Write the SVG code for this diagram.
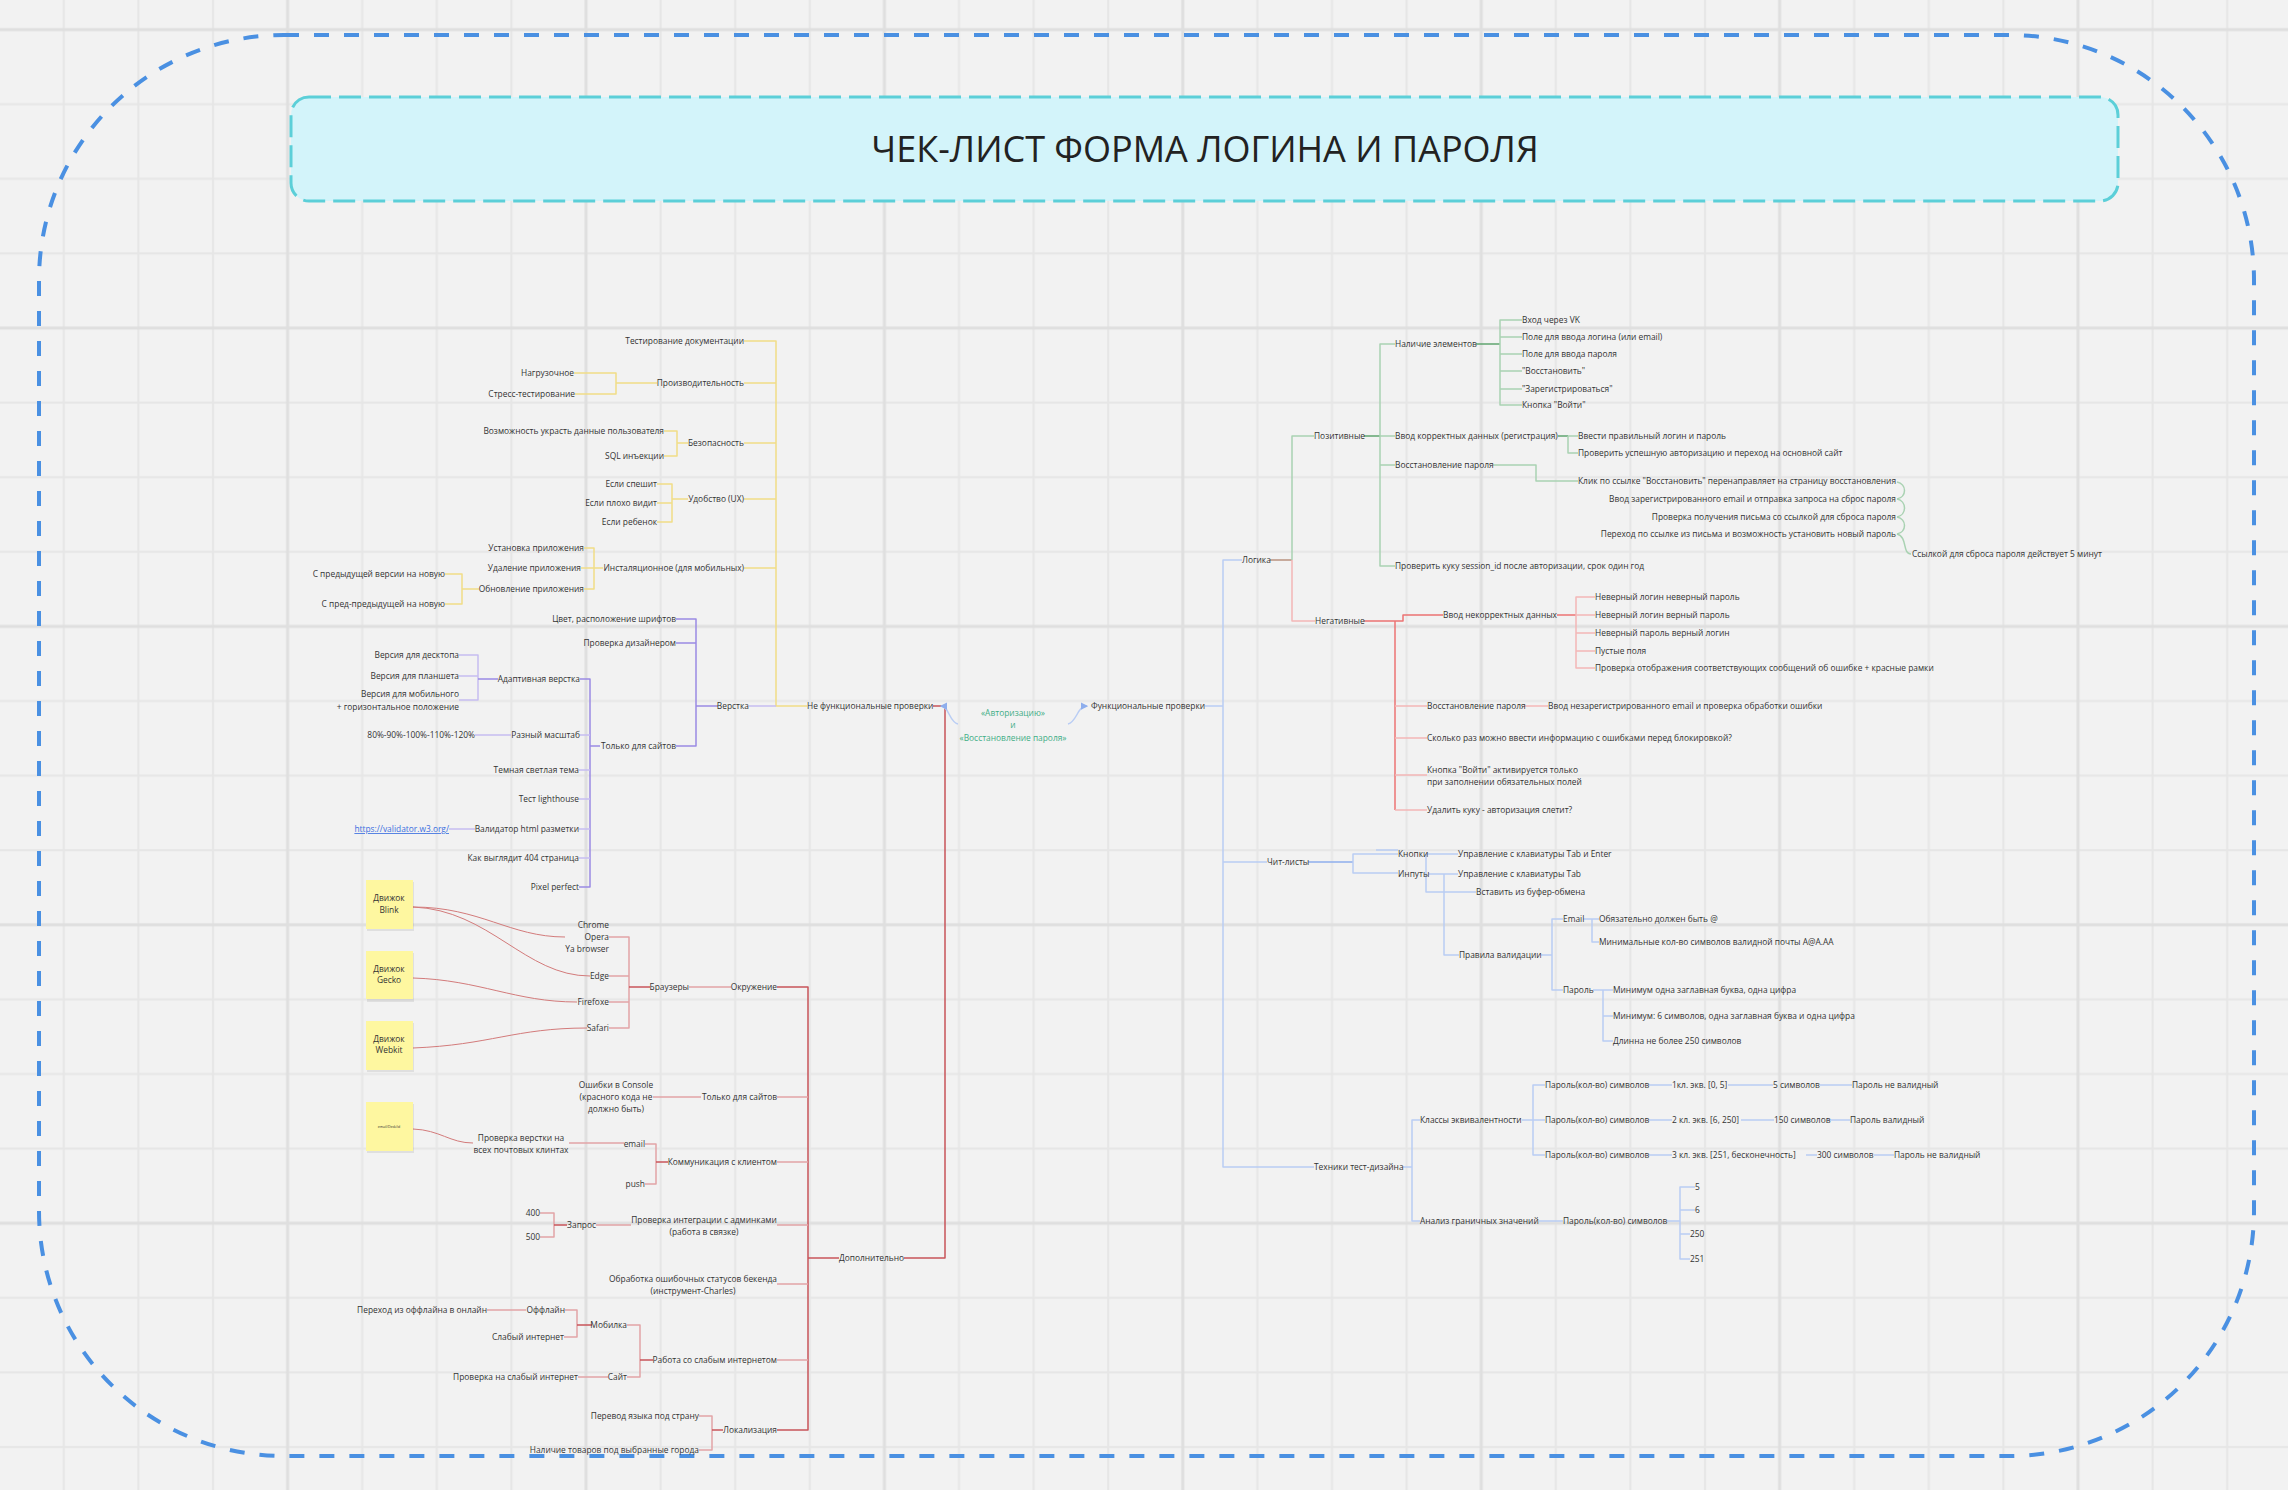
<svg xmlns="http://www.w3.org/2000/svg" width="2288" height="1490" viewBox="0 0 2288 1490">
<style>
.t{font-family:'Open Sans','DejaVu Sans',sans-serif;font-size:8.4px;fill:#333}
.e{text-anchor:end}
.m{text-anchor:middle}
.lk{fill:#3b6fe0;text-decoration:underline}
.gr{fill:#3fae86}
.c{fill:none;stroke-width:1.5;stroke-linejoin:round}
.y{stroke:#f1dd86}
.pu{stroke:#9a8ae4}
.pl{stroke:#c6bdf1}
.r{stroke:#c8545a}
.rl{stroke:#e2a4a6}
.g{stroke:#5fa56f}
.gl{stroke:#a9d2b2}
.n{stroke:#ec7373}
.nl{stroke:#f4b7b7}
.b{stroke:#8eaeed}
.bl{stroke:#b9cdf4}
.cu{fill:none;stroke:#d37b7b;stroke-width:1}
.st{fill:#fef7a0}
.sh{fill:#000;opacity:0.08}
</style>
<defs>
<pattern id="grid" x="101.1" y="141.5" width="298.4" height="298.4" patternUnits="userSpaceOnUse">
<rect width="298.4" height="298.4" fill="#f2f2f2"/>
<g fill="#e6e6e6">
<rect x="36.3" y="0" width="2" height="298.4"/><rect x="110.9" y="0" width="2" height="298.4"/><rect x="260.1" y="0" width="2" height="298.4"/>
<rect y="36.3" x="0" height="2" width="298.4"/><rect y="110.9" x="0" height="2" width="298.4"/><rect y="260.1" x="0" height="2" width="298.4"/>
</g>
<g fill="#dfdfdf">
<rect x="185" y="0" width="3" height="298.4"/><rect y="185" x="0" height="3" width="298.4"/>
</g>
</pattern>
<marker id="ar" viewBox="0 0 6 6" refX="5" refY="3" markerWidth="5" markerHeight="5" orient="auto">
<path d="M0,0 L6,3 L0,6 z" fill="#8eaeed"/>
</marker>
</defs>
<rect width="2288" height="1490" fill="url(#grid)"/>
<rect x="39" y="35" width="2215" height="1421" rx="245" fill="none" stroke="#4a90e2" stroke-width="4" stroke-dasharray="15 15"/>
<g id="title">
<rect x="291" y="97" width="1827" height="104" rx="18" fill="#d3f4fa" stroke="#5ccfd8" stroke-width="3" stroke-dasharray="22 8"/>
<text x="1205" y="162" text-anchor="middle" font-family="'Open Sans','DejaVu Sans',sans-serif" font-size="36" fill="#222">ЧЕК-ЛИСТ ФОРМА ЛОГИНА И ПАРОЛЯ</text>
</g>

<g id="connectors">
<path class="c y" d="M744 341 H776 V706 H807"/>
<path class="c y" d="M744 383 H776 M744 443 H776 M744 499 H776 M744 568 H776"/>
<path class="c y" d="M574 373 H616 V394 H575 M616 383 H657"/>
<path class="c y" d="M664 431 H677 V456 H664 M677 443 H688"/>
<path class="c y" d="M657 484 H672 V522 H657 M657 503 H672 M672 499 H688"/>
<path class="c y" d="M584 548 H594 V589 H584 M581 568 H603"/>
<path class="c y" d="M445 574 H462 V604 H445 M462 589 H479"/>
<path class="c pl" d="M749 706 H776"/>
<path class="c pu" d="M676 619 H696 V746 H676 M676 643 H696 M696 706 H718"/>
<path class="c pu" d="M580 679 H590 V887 H579 M590 746 H600"/>
<path class="c pl" d="M580 735 H590 M579 770 H590 M579 799 H590 M579 829 H590 M579 858 H590"/>
<path class="c pl" d="M459 655 H478 V700 H459 M459 676 H478"/>
<path class="c pu" d="M478 679 H498"/>
<path class="c pl" d="M475 735 H511 M449 829 H475"/>
<path class="c r" d="M777 987 H808 V1430 H777"/>
<path class="c rl" d="M777 1097 H808 M777 1162 H808 M777 1225 H808 M777 1284 H808 M777 1360 H808"/>
<path class="c r" d="M808 1258 H839"/>
<path class="c r" d="M904 1258 H945 V706 H933"/>
<path class="c rl" d="M609 937 H629 V1028 H609 M609 976 H629 M609 1002 H629"/>
<path class="c r" d="M629 987 H650"/>
<path class="c rl" d="M689 987 H731 M653 1097 H701"/>
<path class="c rl" d="M645 1144 H656 V1184 H645 M569 1143 H624"/>
<path class="c r" d="M656 1162 H668"/>
<path class="c rl" d="M596 1225 H631 M540 1213 H554 V1237 H540"/>
<path class="c r" d="M554 1225 H567"/>
<path class="c rl" d="M627 1325 H640 V1377 H627 M565 1310 H577 V1337 H564 M487 1310 H526 M578 1377 H608"/>
<path class="c r" d="M640 1360 H653 M577 1325 H592"/>
<path class="c rl" d="M699 1416 H712 V1450 H699"/>
<path class="c r" d="M712 1430 H723"/>
<path class="cu" d="M413 907 C480 907 510 937 565 937"/>
<path class="cu" d="M413 907 C490 910 525 976 590 976"/>
<path class="cu" d="M413 978 C480 980 515 1002 577 1002"/>
<path class="cu" d="M413 1048 C490 1045 515 1028 587 1028"/>
<path class="cu" d="M413 1129 C440 1130 450 1143 473 1143"/>
<path class="c bl" d="M958 724 C949 722 949 706 941 706" marker-end="url(#ar)"/>
<path class="c bl" d="M1068 724 C1077 722 1077 706 1087 706" marker-end="url(#ar)"/>
<path class="c bl" d="M1205 706 H1223"/>
<path class="c bl" d="M1242 560 H1223 V1167 H1314 M1223 862 H1267"/>
<path class="c" stroke="#b9927f" d="M1270 560 H1292"/>
<path class="c gl" d="M1292 560 V436 H1314"/>
<path class="c nl" d="M1292 560 V621 H1315"/>
<path class="c g" d="M1364 436 H1380"/>
<path class="c gl" d="M1395 344 H1380 V566 H1395 M1380 436 H1395 M1380 465 H1395"/>
<path class="c g" d="M1476 344 H1500"/>
<path class="c gl" d="M1522 320 H1500 V405 H1522 M1500 337 H1522 M1500 354 H1522 M1500 371 H1522 M1500 389 H1522"/>
<path class="c g" d="M1558 436 H1568"/>
<path class="c gl" d="M1568 436 H1578 M1568 436 V453 H1578"/>
<path class="c gl" d="M1493 465 H1536 V481 H1578"/>
<path class="c gl" stroke-width="1" d="M1897 482 C1907 484 1907 497 1897 499 M1897 499 C1907 501 1907 515 1897 517 M1897 517 C1907 519 1907 532 1897 534 M1897 534 C1908 537 1902 554 1911 554"/>
<path class="c n" d="M1364 621 H1403 V615 H1443"/>
<path class="c n" d="M1395 621 V810"/>
<path class="c nl" d="M1395 810 H1427 M1395 706 H1427 M1395 738 H1427 M1395 775 H1427"/>
<path class="c n" d="M1557 615 H1576"/>
<path class="c nl" d="M1595 597 H1576 V668 H1595 M1576 615 H1595 M1576 633 H1595 M1576 651 H1595"/>
<path class="c nl" d="M1524 706 H1548"/>
<path class="c b" d="M1308 862 H1353"/>
<path class="c bl" d="M1398 854 H1353 V873 H1398 M1376 850 H1398"/>
<path class="c bl" d="M1427 854 H1458 M1426 854 V892 H1476 M1429 874 H1458"/>
<path class="c bl" d="M1444 874 V955 H1459"/>
<path class="c bl" d="M1541 955 H1552 M1563 919 H1552 V990 H1563"/>
<path class="c bl" d="M1583 919 H1599 M1592 919 V942 H1599"/>
<path class="c bl" d="M1593 990 H1613 M1603 990 V1041 H1613 M1603 1016 H1613"/>
<path class="c bl" d="M1403 1167 H1412 M1420 1120 H1412 V1221 H1420"/>
<path class="c bl" d="M1522 1120 H1545 M1545 1085 H1533 V1155 H1545"/>
<path class="c bl" d="M1649 1085 H1672 M1728 1085 H1773 M1820 1085 H1852"/>
<path class="c bl" d="M1649 1120 H1672 M1741 1120 H1774 M1827 1120 H1850"/>
<path class="c bl" d="M1649 1155 H1672 M1806 1155 H1817 M1874 1155 H1894"/>
<path class="c bl" d="M1539 1221 H1563 M1667 1221 H1680 M1695 1187 H1680 V1259 H1690 M1680 1210 H1695 M1680 1234 H1690"/>
</g>

<g id="s-blink"><rect class="sh" x="367" y="882" width="47" height="49"/><rect class="st" x="366" y="880" width="47" height="49"/><text class="t m" x="389" y="901">Движок</text><text class="t m" x="389" y="913">Blink</text></g>
<g id="s-gecko"><rect class="sh" x="367" y="953" width="47" height="49"/><rect class="st" x="366" y="951" width="47" height="48"/><text class="t m" x="389" y="972">Движок</text><text class="t m" x="389" y="983">Gecko</text></g>
<g id="s-webkit"><rect class="sh" x="367" y="1023" width="47" height="49"/><rect class="st" x="366" y="1021" width="47" height="49"/><text class="t m" x="389" y="1042">Движок</text><text class="t m" x="389" y="1053">Webkit</text></g>
<g id="s-mail"><rect class="sh" x="367" y="1104" width="47" height="49"/><rect class="st" x="366" y="1102" width="47" height="49"/><text class="t m" x="389" y="1128" style="font-size:3.5px">email/Desk/id</text></g>

<g id="n-doc"><text class="t e" x="744" y="344">Тестирование документации</text></g>
<g id="n-perf"><text class="t e" x="744" y="386">Производительность</text></g>
<g id="n-load"><text class="t e" x="574" y="376">Нагрузочное</text></g>
<g id="n-stress"><text class="t e" x="575" y="397">Стресс-тестирование</text></g>
<g id="n-sec"><text class="t e" x="744" y="446">Безопасность</text></g>
<g id="n-steal"><text class="t e" x="664" y="434">Возможность украсть данные пользователя</text></g>
<g id="n-sql"><text class="t e" x="664" y="459">SQL инъекции</text></g>
<g id="n-ux"><text class="t e" x="744" y="502">Удобство (UX)</text></g>
<g id="n-hurry"><text class="t e" x="657" y="487">Если спешит</text></g>
<g id="n-blind"><text class="t e" x="657" y="506">Если плохо видит</text></g>
<g id="n-child"><text class="t e" x="657" y="525">Если ребенок</text></g>
<g id="n-inst"><text class="t e" x="744" y="571">Инсталяционное (для мобильных)</text></g>
<g id="n-install"><text class="t e" x="584" y="551">Установка приложения</text></g>
<g id="n-remove"><text class="t e" x="581" y="571">Удаление приложения</text></g>
<g id="n-update"><text class="t e" x="584" y="592">Обновление приложения</text></g>
<g id="n-upd1"><text class="t e" x="445" y="577">С предыдущей версии на новую</text></g>
<g id="n-upd2"><text class="t e" x="445" y="607">С пред-предыдущей на новую</text></g>
<g id="n-color"><text class="t e" x="676" y="622">Цвет, расположение шрифтов</text></g>
<g id="n-designer"><text class="t e" x="676" y="646">Проверка дизайнером</text></g>
<g id="n-layout"><text class="t e" x="749" y="709">Верстка</text></g>
<g id="n-sites"><text class="t e" x="676" y="749">Только для сайтов</text></g>
<g id="n-adapt"><text class="t e" x="580" y="682">Адаптивная верстка</text></g>
<g id="n-desk"><text class="t e" x="459" y="658">Версия для десктопа</text></g>
<g id="n-tab"><text class="t e" x="459" y="679">Версия для планшета</text></g>
<g id="n-mob"><text class="t e" x="459" y="697">Версия для мобильного</text><text class="t e" x="459" y="710">+ горизонтальное положение</text></g>
<g id="n-scale"><text class="t e" x="580" y="738">Разный масштаб</text></g>
<g id="n-pct"><text class="t e" x="475" y="738">80%-90%-100%-110%-120%</text></g>
<g id="n-theme"><text class="t e" x="579" y="773">Темная светлая тема</text></g>
<g id="n-lh"><text class="t e" x="579" y="802">Тест lighthouse</text></g>
<g id="n-valid"><text class="t e" x="579" y="832">Валидатор html разметки</text></g>
<g id="n-link"><text class="t e lk" x="449" y="832">https://validator.w3.org/</text></g>
<g id="n-404"><text class="t e" x="579" y="861">Как выглядит 404 страница</text></g>
<g id="n-pixel"><text class="t e" x="579" y="890">Pixel perfect</text></g>
<g id="n-nonfunc"><text class="t" x="807" y="709">Не функциональные проверки</text></g>
<g id="n-label"><text class="t m gr" x="1013" y="716">«Авторизацию»</text><text class="t m gr" x="1013" y="728">и</text><text class="t m gr" x="1013" y="741">«Восстановление пароля»</text></g>
<g id="n-func"><text class="t" x="1091" y="709">Функциональные проверки</text></g>
<g id="n-chrome"><text class="t e" x="609" y="928">Chrome</text></g>
<g id="n-opera"><text class="t e" x="609" y="940">Opera</text></g>
<g id="n-ya"><text class="t e" x="609" y="952">Ya browser</text></g>
<g id="n-edge"><text class="t e" x="609" y="979">Edge</text></g>
<g id="n-ff"><text class="t e" x="609" y="1005">Firefoxe</text></g>
<g id="n-safari"><text class="t e" x="609" y="1031">Safari</text></g>
<g id="n-browsers"><text class="t e" x="689" y="990">Браузеры</text></g>
<g id="n-env"><text class="t e" x="777" y="990">Окружение</text></g>
<g id="n-console"><text class="t m" x="616" y="1088">Ошибки в Console</text><text class="t m" x="616" y="1100">(красного кода не</text><text class="t m" x="616" y="1112">должно быть)</text></g>
<g id="n-sites2"><text class="t e" x="777" y="1100">Только для сайтов</text></g>
<g id="n-comm"><text class="t e" x="777" y="1165">Коммуникация с клиентом</text></g>
<g id="n-email"><text class="t e" x="645" y="1147">email</text></g>
<g id="n-push"><text class="t e" x="645" y="1187">push</text></g>
<g id="n-mailcl"><text class="t m" x="521" y="1141">Проверка верстки на</text><text class="t m" x="521" y="1153">всех почтовых клинтах</text></g>
<g id="n-integ"><text class="t m" x="704" y="1223">Проверка интеграции с админками</text><text class="t m" x="704" y="1235">(работа в связке)</text></g>
<g id="n-req"><text class="t e" x="596" y="1228">Запрос</text></g>
<g id="n-400"><text class="t e" x="540" y="1216">400</text></g>
<g id="n-500"><text class="t e" x="540" y="1240">500</text></g>
<g id="n-backend"><text class="t m" x="693" y="1282">Обработка ошибочных статусов бекенда</text><text class="t m" x="693" y="1294">(инструмент-Charles)</text></g>
<g id="n-offline"><text class="t e" x="565" y="1313">Оффлайн</text></g>
<g id="n-offon"><text class="t e" x="487" y="1313">Переход из оффлайна в онлайн</text></g>
<g id="n-weak"><text class="t e" x="564" y="1340">Слабый интернет</text></g>
<g id="n-mobile"><text class="t e" x="627" y="1328">Мобилка</text></g>
<g id="n-site"><text class="t e" x="627" y="1380">Сайт</text></g>
<g id="n-weakcheck"><text class="t e" x="578" y="1380">Проверка на слабый интернет</text></g>
<g id="n-weaknet"><text class="t e" x="777" y="1363">Работа со слабым интернетом</text></g>
<g id="n-loc"><text class="t e" x="777" y="1433">Локализация</text></g>
<g id="n-lang"><text class="t e" x="699" y="1419">Перевод языка под страну</text></g>
<g id="n-goods"><text class="t e" x="699" y="1453">Наличие товаров под выбранные города</text></g>
<g id="n-extra"><text class="t" x="839" y="1261">Дополнительно</text></g>
<g id="n-logic"><text class="t" x="1242" y="563">Логика</text></g>
<g id="n-pos"><text class="t" x="1314" y="439">Позитивные</text></g>
<g id="n-elems"><text class="t" x="1395" y="347">Наличие элементов</text></g>
<g id="n-vk"><text class="t" x="1522" y="323">Вход через VK</text></g>
<g id="n-loginf"><text class="t" x="1522" y="340">Поле для ввода логина (или email)</text></g>
<g id="n-passf"><text class="t" x="1522" y="357">Поле для ввода пароля</text></g>
<g id="n-restore"><text class="t" x="1522" y="374">"Восстановить"</text></g>
<g id="n-reg"><text class="t" x="1522" y="392">"Зарегистрироваться"</text></g>
<g id="n-enter"><text class="t" x="1522" y="408">Кнопка "Войти"</text></g>
<g id="n-correct"><text class="t" x="1395" y="439">Ввод корректных данных (регистрация)</text></g>
<g id="n-right"><text class="t" x="1578" y="439">Ввести правильный логин и пароль</text></g>
<g id="n-success"><text class="t" x="1578" y="456">Проверить успешную авторизацию и переход на основной сайт</text></g>
<g id="n-recov"><text class="t" x="1395" y="468">Восстановление пароля</text></g>
<g id="n-click"><text class="t" x="1578" y="484">Клик по ссылке "Восстановить" перенаправляет на страницу восстановления</text></g>
<g id="n-regmail"><text class="t e" x="1896" y="502">Ввод зарегистрированного email и отправка запроса на сброс пароля</text></g>
<g id="n-getmail"><text class="t e" x="1896" y="520">Проверка получения письма со ссылкой для сброса пароля</text></g>
<g id="n-follow"><text class="t e" x="1896" y="537">Переход по ссылке из письма и возможность установить новый пароль</text></g>
<g id="n-5min"><text class="t" x="1912" y="557">Ссылкой для сброса пароля действует 5 минут</text></g>
<g id="n-cookie"><text class="t" x="1395" y="569">Проверить куку session_id после авторизации, срок один год</text></g>
<g id="n-neg"><text class="t" x="1315" y="624">Негативные</text></g>
<g id="n-incorrect"><text class="t" x="1443" y="618">Ввод некорректных данных</text></g>
<g id="n-nn"><text class="t" x="1595" y="600">Неверный логин неверный пароль</text></g>
<g id="n-nv"><text class="t" x="1595" y="618">Неверный логин верный пароль</text></g>
<g id="n-pv"><text class="t" x="1595" y="636">Неверный пароль верный логин</text></g>
<g id="n-empty"><text class="t" x="1595" y="654">Пустые поля</text></g>
<g id="n-msgs"><text class="t" x="1595" y="671">Проверка отображения соответствующих сообщений об ошибке + красные рамки</text></g>
<g id="n-recov2"><text class="t" x="1427" y="709">Восстановление пароля</text></g>
<g id="n-unreg"><text class="t" x="1548" y="709">Ввод незарегистрированного email и проверка обработки ошибки</text></g>
<g id="n-block"><text class="t" x="1427" y="741">Сколько раз можно ввести информацию с ошибками перед блокировкой?</text></g>
<g id="n-btn"><text class="t" x="1427" y="773">Кнопка "Войти" активируется только</text><text class="t" x="1427" y="785">при заполнении обязательных полей</text></g>
<g id="n-delcookie"><text class="t" x="1427" y="813">Удалить куку - авторизация слетит?</text></g>
<g id="n-cheat"><text class="t" x="1267" y="865">Чит-листы</text></g>
<g id="n-buttons"><text class="t" x="1398" y="857">Кнопки</text></g>
<g id="n-kb1"><text class="t" x="1458" y="857">Управление с клавиатуры Tab и Enter</text></g>
<g id="n-inputs"><text class="t" x="1398" y="877">Инпуты</text></g>
<g id="n-kb2"><text class="t" x="1458" y="877">Управление с клавиатуры Tab</text></g>
<g id="n-paste"><text class="t" x="1476" y="895">Вставить из буфер-обмена</text></g>
<g id="n-rules"><text class="t" x="1459" y="958">Правила валидации</text></g>
<g id="n-em"><text class="t" x="1563" y="922">Email</text></g>
<g id="n-at"><text class="t" x="1599" y="922">Обязательно должен быть @</text></g>
<g id="n-minmail"><text class="t" x="1599" y="945">Минимальные кол-во символов валидной почты A@A.AA</text></g>
<g id="n-pw"><text class="t" x="1563" y="993">Пароль</text></g>
<g id="n-pw1"><text class="t" x="1613" y="993">Минимум одна заглавная буква, одна цифра</text></g>
<g id="n-pw2"><text class="t" x="1613" y="1019">Минимум: 6 символов, одна заглавная буква и одна цифра</text></g>
<g id="n-pw3"><text class="t" x="1613" y="1044">Длинна не более 250 символов</text></g>
<g id="n-tech"><text class="t" x="1314" y="1170">Техники тест-дизайна</text></g>
<g id="n-eq"><text class="t" x="1420" y="1123">Классы эквивалентности</text></g>
<g id="n-eq1"><text class="t" x="1545" y="1088">Пароль(кол-во) символов</text></g>
<g id="n-eq2"><text class="t" x="1545" y="1123">Пароль(кол-во) символов</text></g>
<g id="n-eq3"><text class="t" x="1545" y="1158">Пароль(кол-во) символов</text></g>
<g id="n-c1"><text class="t" x="1672" y="1088">1кл. экв. [0, 5]</text></g>
<g id="n-c1s"><text class="t" x="1773" y="1088">5 символов</text></g>
<g id="n-c1r"><text class="t" x="1852" y="1088">Пароль не валидный</text></g>
<g id="n-c2"><text class="t" x="1672" y="1123">2 кл. экв. [6, 250]</text></g>
<g id="n-c2s"><text class="t" x="1774" y="1123">150 символов</text></g>
<g id="n-c2r"><text class="t" x="1850" y="1123">Пароль валидный</text></g>
<g id="n-c3"><text class="t" x="1672" y="1158">3 кл. экв. [251, бесконечность]</text></g>
<g id="n-c3s"><text class="t" x="1817" y="1158">300 символов</text></g>
<g id="n-c3r"><text class="t" x="1894" y="1158">Пароль не валидный</text></g>
<g id="n-bva"><text class="t" x="1420" y="1224">Анализ граничных значений</text></g>
<g id="n-bvap"><text class="t" x="1563" y="1224">Пароль(кол-во) символов</text></g>
<g id="n-v5"><text class="t" x="1695" y="1190">5</text></g>
<g id="n-v6"><text class="t" x="1695" y="1213">6</text></g>
<g id="n-v250"><text class="t" x="1690" y="1237">250</text></g>
<g id="n-v251"><text class="t" x="1690" y="1262">251</text></g>
</svg>
